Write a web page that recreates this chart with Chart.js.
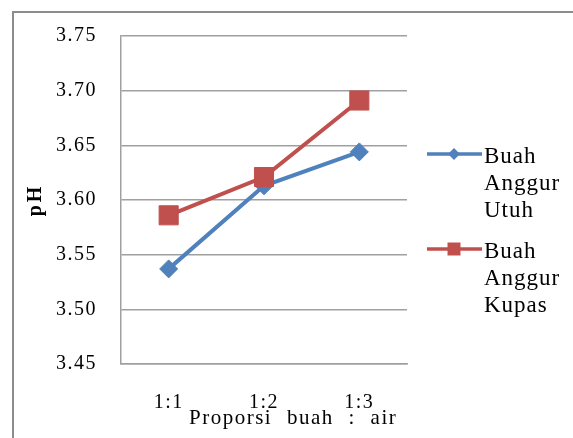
<!DOCTYPE html>
<html><head><meta charset="utf-8">
<script src="https://cdn.jsdelivr.net/npm/chart.js@4"></script>
<style>html,body{margin:0;padding:0;background:#fff;overflow:hidden}
#wrap{position:relative;width:573px;height:438px}
canvas{display:block}</style></head>
<body><div id="wrap"><canvas id="c" width="573" height="438" style="width:573px;height:438px"></canvas></div>
<script>
// ---- data ----
const categories = ['1:1', '1:2', '1:3'];
const seriesNames = ['Buah Anggur Utuh', 'Buah Anggur Kupas'];
const utuh = [3.537, 3.613, 3.644];
const kupas = [3.586, 3.621, 3.691];
const yTicks = [3.45, 3.50, 3.55, 3.60, 3.65, 3.70, 3.75];
const xTitle = 'Proporsi buah : air';
const yTitle = 'pH';

const BLUE = '#4F81BD', RED = '#C0504D', GRID = '#a0a0a0';
const SERIF = "'Liberation Serif', serif";

const decor = {
  id: 'decor',
  beforeDraw(chart) {
    const ctx = chart.ctx;
    ctx.save();
    ctx.fillStyle = '#fff';
    ctx.fillRect(0, 0, chart.width, chart.height);
    ctx.strokeStyle = '#8c8c8c';
    ctx.lineWidth = 2;
    ctx.beginPath();
    ctx.moveTo(13, chart.height + 2);
    ctx.lineTo(13, 12);
    ctx.lineTo(chart.width + 2, 12);
    ctx.stroke();
    ctx.restore();
    ctx.letterSpacing = '1.5px';
  },
  afterDraw(chart) {
    const ctx = chart.ctx, area = chart.chartArea;
    ctx.save();
    ctx.fillStyle = '#000';
    ctx.font = '21px ' + SERIF;
    ctx.letterSpacing = '1.5px';
    ctx.wordSpacing = '8px';
    ctx.textAlign = 'left';
    ctx.textBaseline = 'alphabetic';
    ctx.fillText(xTitle, 189, 424);
    ctx.restore();
    ctx.save();
    ctx.fillStyle = '#000';
    ctx.translate(36, (area.top + area.bottom) / 2);
    ctx.rotate(-Math.PI / 2);
    ctx.font = 'bold 20px ' + SERIF;
    ctx.letterSpacing = '3px';
    ctx.textAlign = 'center';
    ctx.textBaseline = 'middle';
    ctx.fillText(yTitle, 0, 0);
    ctx.restore();
    const legendY = [154, 249];
    chart.data.datasets.forEach((ds, i) => {
      const y = legendY[i];
      ctx.save();
      ctx.strokeStyle = ds.borderColor;
      ctx.lineWidth = 3.5;
      ctx.beginPath();
      ctx.moveTo(427, y);
      ctx.lineTo(482, y);
      ctx.stroke();
      ctx.fillStyle = ds.borderColor;
      ctx.beginPath();
      if (ds.pointStyle === 'rectRot') {
        const r = 6;
        ctx.moveTo(454 - r, y); ctx.lineTo(454, y - r); ctx.lineTo(454 + r, y); ctx.lineTo(454, y + r);
        ctx.closePath();
      } else {
        ctx.rect(454 - 6.5, y - 6.5, 13, 13);
      }
      ctx.fill();
      ctx.fillStyle = '#000';
      ctx.font = '23px ' + SERIF;
      ctx.letterSpacing = '1px';
      ctx.textAlign = 'left';
      ctx.textBaseline = 'alphabetic';
      ds.label.split(' ').forEach((w, k) => ctx.fillText(w, 484, y + 9 + k * 27));
      ctx.restore();
    });
  }
};

function build() {
  new Chart(document.getElementById('c'), {
    type: 'line',
    data: {
      labels: categories,
      datasets: [
        { label: seriesNames[0], data: utuh, order: 1,
          borderColor: BLUE, backgroundColor: BLUE, borderWidth: 4,
          pointStyle: 'rectRot', pointRadius: 9, pointHoverRadius: 9, pointBorderWidth: 1,
          pointBackgroundColor: BLUE, pointBorderColor: BLUE, tension: 0 },
        { label: seriesNames[1], data: kupas, order: 0,
          borderColor: RED, backgroundColor: RED, borderWidth: 4,
          pointStyle: 'rect', pointRadius: 13.5, pointHoverRadius: 13.5, pointBorderWidth: 1,
          pointBackgroundColor: RED, pointBorderColor: RED, tension: 0 }
      ]
    },
    options: {
      responsive: false,
      animation: false,
      events: [],
      devicePixelRatio: 1,
      layout: { padding: { left: 0, top: 36, right: 166, bottom: 0 } },
      plugins: { legend: { display: false }, tooltip: { enabled: false }, title: { display: false } },
      scales: {
        x: {
          offset: true,
          grid: { display: false, drawTicks: false },
          border: { display: true, color: GRID, width: 1.5 },
          ticks: { color: '#000', font: { family: SERIF, size: 20 }, padding: 27, maxRotation: 0 },
          afterFit(scale) { scale.height = 74; }
        },
        y: {
          min: 3.45, max: 3.75,
          afterBuildTicks(scale) { scale.ticks = yTicks.map(v => ({ value: v })); },
          grid: { color: GRID, lineWidth: 1.5, drawTicks: false },
          border: { display: true, color: GRID, width: 1.5 },
          ticks: { color: '#000', font: { family: SERIF, size: 20 }, padding: 24,
                   callback: v => Number(v).toFixed(2) },
          afterFit(scale) { scale.width = 121; }
        }
      }
    },
    plugins: [decor]
  });
}
Promise.all([
  document.fonts.load("20px 'Liberation Serif'"),
  document.fonts.load("bold 20px 'Liberation Serif'")
]).then(build, build);
</script>
</body></html>
